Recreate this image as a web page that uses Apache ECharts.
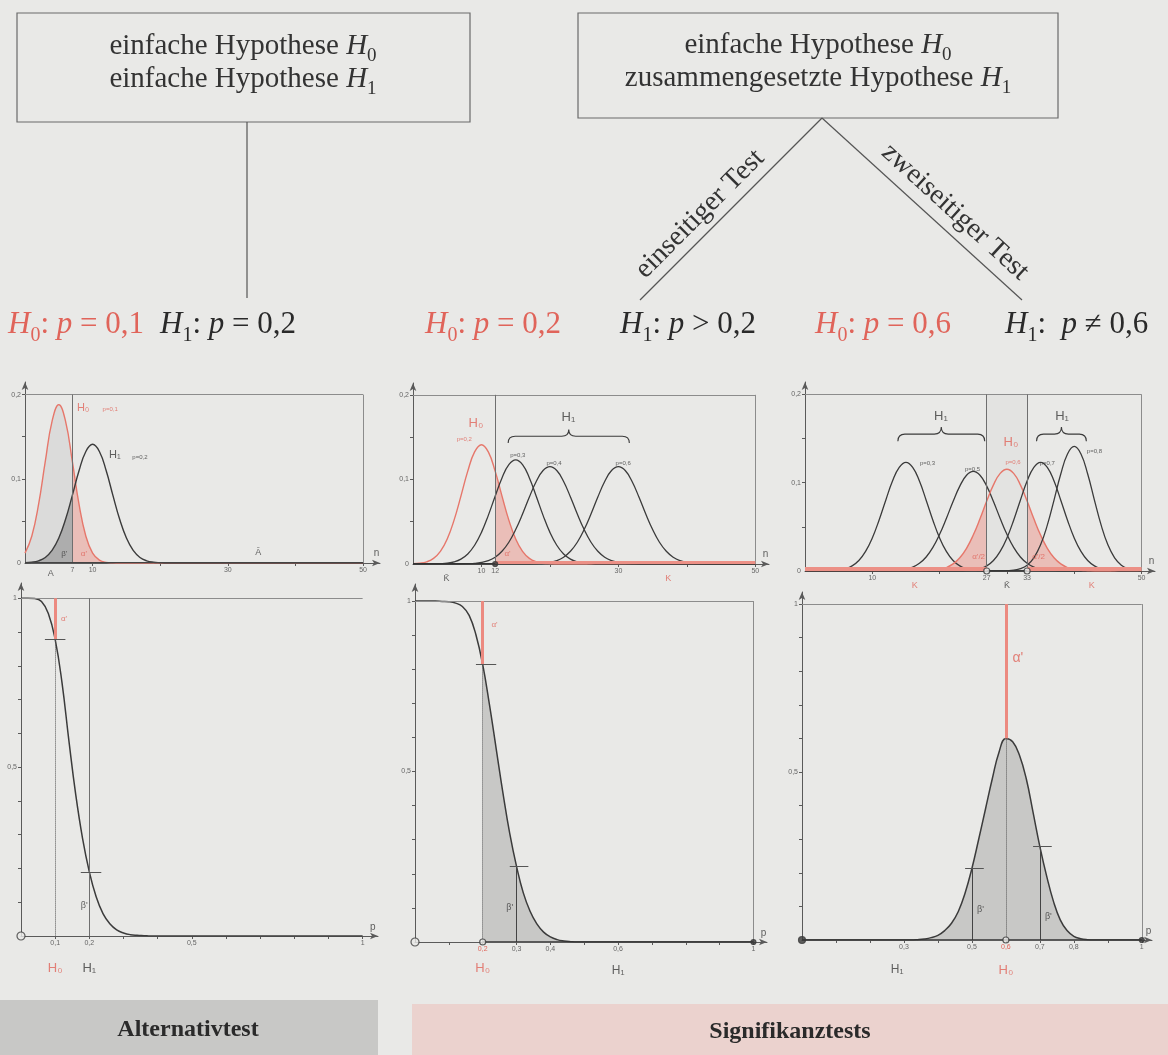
<!DOCTYPE html>
<html><head><meta charset="utf-8">
<script src="https://cdn.jsdelivr.net/npm/echarts@6/dist/echarts.min.js"></script>
<style>html,body{margin:0;padding:0;background:#e9e9e7}#c{width:1168px;height:1055px}</style>
</head><body><div id="c"></div>
<script>
// ---------- data ----------
const N = [0,1,2,3,4,5,6,7,8,9,10,11,12,13,14,15,16,17,18,19,20,21,22,23,24,25,26,27,28,29,30,31,32,33,34,35,36,37,38,39,40,41,42,43,44,45,46,47,48,49,50];
const P01 = [0.0117,0.0318,0.0692,0.1206,0.1683,0.1881,0.1683,0.1206,0.0692,0.0318,0.0117,0.0034,0.0008,0.0002,
  0,0,0,0,0,0,0,0,0,0, 0,0,0,0,0,0,0,0,0,0, 0,0,0,0,0,0,0,0,0,0, 0,0,0,0,0,0,0];
const P02 = [0.0003,0.0009,0.0026,0.0066,0.0149,0.0296,0.0519,0.0803,0.1098,0.1325,0.1410,0.1325,0.1098,0.0803,0.0519,0.0296,0.0149,0.0066,0.0026,0.0009,0.0003,
  0,0,0,0,0,0,0,0,0,0, 0,0,0,0,0,0,0,0,0,0, 0,0,0,0,0,0,0,0,0,0];
const P03 = [0,0,0,0,
  0.0004,0.0011,0.0026,0.0058,0.0119,0.0222,0.0374,0.0575,0.0802,0.1018,0.1174,0.1231,0.1174,0.1018,0.0802,0.0575,0.0374,0.0222,0.0119,0.0058,0.0026,0.0011,0.0004,
  0,0,0,0,0,0,0,0,0,0, 0,0,0,0,0,0,0,0,0,0, 0,0,0,0];
const P04 = [0,0,0,0,0,0,0,0,
  0.0003,0.0007,0.0018,0.0039,0.0080,0.0150,0.0257,0.0407,0.0591,0.0792,0.0975,0.1105,0.1152,0.1105,0.0975,0.0792,0.0591,0.0407,0.0257,0.0150,0.0080,0.0039,0.0018,0.0007,0.0003,
  0,0,0,0,0,0,0,0,0,0, 0,0,0,0,0,0,0,0];
const P05 = [0,0,0,0,0,0,0,0,0,0, 0,0,0,
  0.0004,0.0009,0.0021,0.0044,0.0087,0.0159,0.0267,0.0415,0.0595,0.0787,0.0961,0.1084,0.1128,0.1084,0.0961,0.0787,0.0595,0.0415,0.0267,0.0159,0.0087,0.0044,0.0021,0.0009,0.0004,
  0,0,0,0,0,0,0,0,0,0, 0,0,0];
const P06 = [0,0,0,0,0,0,0,0,0,0, 0,0,0,0,0,0,0,0,
  0.0003,0.0007,0.0018,0.0039,0.0080,0.0150,0.0257,0.0407,0.0591,0.0792,0.0975,0.1105,0.1152,0.1105,0.0975,0.0792,0.0591,0.0407,0.0257,0.0150,0.0080,0.0039,0.0018,0.0007,0.0003,
  0,0,0,0,0,0,0,0];
const P07 = [0,0,0,0,0,0,0,0,0,0, 0,0,0,0,0,0,0,0,0,0, 0,0,0,0,
  0.0004,0.0011,0.0026,0.0058,0.0119,0.0222,0.0374,0.0575,0.0802,0.1018,0.1174,0.1231,0.1174,0.1018,0.0802,0.0575,0.0374,0.0222,0.0119,0.0058,0.0026,0.0011,0.0004,
  0,0,0,0];
const P08 = [0,0,0,0,0,0,0,0,0,0, 0,0,0,0,0,0,0,0,0,0, 0,0,0,0,0,0,0,0,0,0,
  0.0003,0.0009,0.0026,0.0066,0.0149,0.0296,0.0519,0.0803,0.1098,0.1325,0.1410,0.1325,0.1098,0.0803,0.0519,0.0296,0.0149,0.0066,0.0026,0.0009,0.0003];

const P_GRID = [0,0.02,0.04,0.06,0.08,0.1,0.12,0.14,0.16,0.18,0.2,0.22,0.24,0.26,0.28,0.3,0.32,0.34,0.36,0.38,0.4,0.42,0.44,0.46,0.48,0.5,0.52,0.54,0.56,0.58,0.6,0.62,0.64,0.66,0.68,0.7,0.72,0.74,0.76,0.78,0.8,0.82,0.84,0.86,0.88,0.9,0.92,0.94,0.96,0.98,1];
const OC_ALT = [1,1,0.999,0.99,0.955,0.878,0.75,0.58,0.42,0.29,0.19,0.116,0.066,0.036,0.018,0.009,0.004,0.002,0.001,
  0,0,0,0,0,0,0,0,0,0, 0,0,0,0,0,0,0,0,0,0, 0,0,0,0,0,0,0,0,0,0, 0,0];
const OC_ONE = [1,1,1,1,0.999,0.998,0.994,0.984,0.958,0.901,0.814,0.696,0.566,0.436,0.318,0.222,0.144,0.09,0.053,0.029,0.015,0.007,0.003,0.001,
  0,0,0,0,0,0,0,0,0,0, 0,0,0,0,0,0,0,0,0,0, 0,0,0,0,0,0,0];
const OC_TWO = [0,0,0,0,0,0,0,0,0,0, 0,0,0,0,0,0,0,
  0.001,0.003,0.007,0.014,0.028,0.05,0.085,0.14,0.213,0.3,0.39,0.48,0.56,0.6,0.59,0.55,0.48,0.38,0.278,0.19,0.115,0.06,0.028,0.011,0.004,0.001,
  0,0,0,0,0,0,0,0];

const CRIT_ALT = 7, CRIT_ONE = 12, CRIT_TWO = [27, 33];
const MARK_ALT = [0.1, 0.878, 0.2, 0.19];     // p0, OC(p0), p1, OC(p1)
const MARK_ONE = [0.2, 0.814, 0.3, 0.222];
const MARK_TWO = [0.6, 0.6, 0.5, 0.213, 0.7, 0.278];

// ---------- styles ----------
const RED = '#e6776b', REDT = '#e0645a', DARK = '#3b3b3b', AXC = '#5a5a5a', FRAME = '#8c8c8c';
const REDFILL = 'rgba(236,132,120,0.42)', GRAYFILL = 'rgba(105,105,105,0.40)', OCFILL = 'rgba(110,110,110,0.27)';
const SERIF = '"Liberation Serif","DejaVu Serif",serif', SANS = '"Liberation Sans",Arial,sans-serif';

function fmt(v){ return v === 1 ? '1' : String(v).replace('.', ','); }
function pts(xs, ys, a, b){ const o=[]; for(let i=0;i<xs.length;i++){ if(xs[i]>=a-1e-9 && xs[i]<=b+1e-9) o.push([xs[i], ys[i]]); } return o; }
function curve(gi, xs, ys, color, w){ return {type:'line', xAxisIndex:gi, yAxisIndex:gi, data:pts(xs,ys,-1,1e9), smooth:0.45, symbol:'none', silent:true, z:5, lineStyle:{color:color, width:w||1.3}}; }
function area(gi, xs, ys, a, b, fill){ return {type:'line', xAxisIndex:gi, yAxisIndex:gi, data:pts(xs,ys,a,b), smooth:0.45, symbol:'none', silent:true, z:2, lineStyle:{width:0}, areaStyle:{color:fill, opacity:1}}; }
function segs(gi, list){ return {type:'lines', coordinateSystem:'cartesian2d', xAxisIndex:gi, yAxisIndex:gi, silent:true, z:6,
  data:list.map(s=>({coords:[s[0],s[1]], lineStyle:{color:s[2]||FRAME, width:s[3]||1, type:s[4]||'solid', opacity:1}}))}; }
function texts(gi, items){ return {type:'scatter', xAxisIndex:gi, yAxisIndex:gi, clip:false, silent:true, z:10, symbolSize:1, itemStyle:{color:'rgba(0,0,0,0)'},
  data:items.map(t=>({value:[t[1],t[2]], label:{show:true, position:'inside', formatter:t[0], color:t[3]||DARK, fontSize:t[4]||8, fontFamily:SANS}}))}; }
function dots(gi, items){ return {type:'scatter', xAxisIndex:gi, yAxisIndex:gi, clip:false, silent:true, z:12,
  data:items.map(d=>({value:[d[0],d[1]], symbol:'circle', symbolSize:d[3], itemStyle:{color:d[2]?'#e9e9e7':'#3a3a3a', borderColor:'#3a3a3a', borderWidth:1.2}}))}; }
function braces(gi, list){ return {type:'custom', xAxisIndex:gi, yAxisIndex:gi, silent:true, z:8, clip:false, data:list,
  renderItem:(params, api)=>{
    const a=api.coord([api.value(0), api.value(2)]), b=api.coord([api.value(1), api.value(2)]);
    const t=api.coord([api.value(0), api.value(2)+api.value(3)]);
    const x1=a[0], x2=b[0], yb=a[1], yt=t[1], ym=(yb+yt)/2, m=(x1+x2)/2, r=Math.min(7,(x2-x1)/4);
    const d='M'+x1+' '+yb+' Q'+x1+' '+ym+' '+(x1+r)+' '+ym+' L'+(m-r)+' '+ym+' Q'+m+' '+ym+' '+m+' '+yt+
            ' Q'+m+' '+ym+' '+(m+r)+' '+ym+' L'+(x2-r)+' '+ym+' Q'+x2+' '+ym+' '+x2+' '+yb;
    return {type:'path', shape:{pathData:d}, style:{stroke:DARK, fill:'none', lineWidth:1.1}};
  }}; }

function xAx(gi, max, ticks, labels, colorFn){ return {type:'value', gridIndex:gi, min:0, max:max,
  axisLine:{show:true, onZero:false, symbol:['none','arrow'], symbolSize:[5,8], lineStyle:{color:AXC, width:1}},
  axisTick:{show:true, customValues:ticks, length:3, lineStyle:{color:AXC}},
  axisLabel:{show:true, customValues:labels, formatter:fmt, fontSize:7, margin:4, fontFamily:SANS, color:colorFn||'#666'},
  splitLine:{show:false}}; }
function yAx(gi, max, ticks, labels){ return {type:'value', gridIndex:gi, min:0, max:max,
  axisLine:{show:true, onZero:false, symbol:['none','arrow'], symbolSize:[5,8], lineStyle:{color:AXC, width:1}},
  axisTick:{show:true, customValues:ticks, length:3, lineStyle:{color:AXC}},
  axisLabel:{show:true, customValues:labels, formatter:fmt, fontSize:7, margin:4, fontFamily:SANS, color:'#666'},
  splitLine:{show:false}}; }

const grids = [
  {left:25,  top:382, width:355, height:181},
  {left:413, top:383, width:356, height:181},
  {left:805, top:382, width:350, height:189},
  {left:21,  top:583, width:357, height:353},
  {left:415, top:584, width:352, height:358},
  {left:802, top:592, width:350, height:348}
];
const T10 = [10,20,30,40,50], TY = [0.05,0.1,0.15,0.2];
const TP = [0.1,0.2,0.3,0.4,0.5,0.6,0.7,0.8,0.9,1];
const xAxes = [
  xAx(0, 52.5, T10, [CRIT_ALT,10,30,50]),
  xAx(1, 52, T10, [10,CRIT_ONE,30,50]),
  xAx(2, 52, T10, [10,CRIT_TWO[0],CRIT_TWO[1],50]),
  xAx(3, 1.045, TP, [0.1,0.2,0.5,1]),
  xAx(4, 1.04, TP, [0.2,0.3,0.4,0.6,1], v=> (Math.abs(v-0.2)<1e-6 ? REDT : '#666')),
  xAx(5, 1.03, TP, [0.3,0.5,0.6,0.7,0.8,1], v=> (Math.abs(v-0.6)<1e-6 ? REDT : '#666'))
];
const yAxes = [
  yAx(0, 0.215, TY, [0,0.1,0.2]),
  yAx(1, 0.214, TY, [0,0.1,0.2]),
  yAx(2, 0.214, TY, [0,0.1,0.2]),
  yAx(3, 1.045, TP, [0.5,1]),
  yAx(4, 1.05, TP, [0.5,1]),
  yAx(5, 1.036, TP, [0.5,1])
];

const series = [];
// ---- chart A: Alternativtest distributions
series.push(area(0, N, P01, 0, CRIT_ALT, 'rgba(120,120,120,0.12)'));
series.push(area(0, N, P02, 0, CRIT_ALT, GRAYFILL));
series.push(area(0, N, P01, CRIT_ALT, 14, REDFILL));
series.push(curve(0, N, P01, RED, 1.4));
series.push(curve(0, N, P02, DARK, 1.4));
series.push(segs(0, [[[0,0.2],[50,0.2]], [[50,0],[50,0.2]], [[CRIT_ALT,0],[CRIT_ALT,0.2],'#6f6f6f'], [[0,0],[50,0],'#444',1.8]]));
series.push(texts(0, [['H₀',8.6,0.184,REDT,11],['p=0,1',12.6,0.183,REDT,6],['H₁',13.3,0.128,DARK,11],['p=0,2',17,0.126,DARK,6],
  ["β'",5.8,0.011,DARK,8],["α'",8.7,0.011,REDT,8],['A',3.8,-0.013,DARK,9],['A\u0304',34.5,0.012,DARK,9],['n',52,0.011,DARK,10]]));

// ---- chart B: one-sided significance test
series.push(area(1, N, P02, CRIT_ONE, 22, REDFILL));
series.push(curve(1, N, P02, RED, 1.4));
series.push(curve(1, N, P03, DARK));
series.push(curve(1, N, P04, DARK));
series.push(curve(1, N, P06, DARK));
series.push(segs(1, [[[0,0.2],[50,0.2]], [[50,0],[50,0.2]], [[CRIT_ONE,0],[CRIT_ONE,0.2],'#6f6f6f'],
  [[CRIT_ONE,0.0015],[50,0.0015],'#ec9086',4], [[0,0],[CRIT_ONE,0],'#333',3]]));
series.push(dots(1, [[CRIT_ONE,0,false,5]]));
series.push(braces(1, [[13.9,31.6,0.143,0.016]]));
series.push(texts(1, [['H₀',9.2,0.166,REDT,13],['p=0,2',7.5,0.147,REDT,6],['H₁',22.7,0.173,DARK,13],
  ['p=0,3',15.3,0.128,DARK,6],['p=0,4',20.6,0.119,DARK,6],['p=0,6',30.7,0.119,DARK,6],
  ["α'",13.8,0.012,REDT,8],['K\u0304',4.9,-0.017,DARK,9],['K',37.3,-0.017,REDT,9],['n',51.5,0.011,DARK,10]]));

// ---- chart C: two-sided significance test
series.push({type:'line', xAxisIndex:2, yAxisIndex:2, data:[], silent:true,
  markArea:{silent:true, itemStyle:{color:'rgba(0,0,0,0.025)'}, data:[[{coord:[CRIT_TWO[0],0]},{coord:[CRIT_TWO[1],0.2]}]]}});
series.push(area(2, N, P06, 15, CRIT_TWO[0], REDFILL));
series.push(area(2, N, P06, CRIT_TWO[1], 45, REDFILL));
series.push(curve(2, N, P03, DARK));
series.push(curve(2, N, P05, DARK));
series.push(curve(2, N, P06, RED, 1.4));
series.push(curve(2, N, P07, DARK));
series.push(curve(2, N, P08, DARK));
series.push(segs(2, [[[0,0.2],[50,0.2]], [[50,0],[50,0.2]], [[CRIT_TWO[0],0],[CRIT_TWO[0],0.2],'#6f6f6f'], [[CRIT_TWO[1],0],[CRIT_TWO[1],0.2],'#6f6f6f'],
  [[0,0.002],[CRIT_TWO[0],0.002],'#ec9086',4], [[CRIT_TWO[1],0.002],[50,0.002],'#ec9086',4], [[CRIT_TWO[0],0],[CRIT_TWO[1],0],'#333',2.5]]));
series.push(dots(2, [[CRIT_TWO[0],0,true,6],[CRIT_TWO[1],0,true,6]]));
series.push(braces(2, [[13.8,26.7,0.147,0.016],[34.4,41.8,0.147,0.016]]));
series.push(texts(2, [['H₁',20.2,0.175,DARK,13],['H₁',38.2,0.175,DARK,13],['H₀',30.6,0.146,REDT,13],
  ['p=0,3',18.2,0.122,DARK,6],['p=0,5',24.9,0.115,DARK,6],['p=0,6',30.9,0.123,REDT,6],['p=0,7',36,0.122,DARK,6],['p=0,8',43,0.136,DARK,6],
  ["α'/2",25.8,0.016,REDT,8],["α'/2",34.7,0.016,REDT,8],['K',16.3,-0.017,REDT,9],['K',42.6,-0.017,REDT,9],['K\u0304',30,-0.017,DARK,9],['n',51.5,0.011,DARK,10]]));

// ---- chart D: OC curve Alternativtest
series.push(curve(3, P_GRID, OC_ALT, DARK, 1.5));
series.push(segs(3, [[[0,1],[1,1]], [[MARK_ALT[2],0],[MARK_ALT[2],1],'#6f6f6f'],
  [[MARK_ALT[0],1],[MARK_ALT[0],MARK_ALT[1]],'#ec8a80',3], [[MARK_ALT[0],MARK_ALT[1]],[MARK_ALT[0],0],'#555',1,'dotted'],
  [[0.07,MARK_ALT[1]],[0.13,MARK_ALT[1]],'#555'], [[0.175,MARK_ALT[3]],[0.235,MARK_ALT[3]],'#555']]));
series.push(dots(3, [[0,0,true,8]]));
series.push(texts(3, [["α'",0.126,0.94,REDT,8],["β'",0.185,0.09,DARK,9],['H₀',0.1,-0.095,REDT,13],['H₁',0.2,-0.095,DARK,13],['p',1.03,0.025,DARK,10]]));

// ---- chart E: OC one-sided
series.push(area(4, P_GRID, OC_ONE, MARK_ONE[0], 0.5, OCFILL));
series.push(curve(4, P_GRID, OC_ONE, DARK, 1.5));
series.push(segs(4, [[[0,1],[1,1]], [[1,0],[1,1]],
  [[MARK_ONE[0],1],[MARK_ONE[0],MARK_ONE[1]],'#ec8a80',3], [[MARK_ONE[0],MARK_ONE[1]],[MARK_ONE[0],0],'#555',1,'dotted'],
  [[MARK_ONE[2],0],[MARK_ONE[2],MARK_ONE[3]],'#444'],
  [[0.18,MARK_ONE[1]],[0.24,MARK_ONE[1]],'#555'], [[0.28,MARK_ONE[3]],[0.335,MARK_ONE[3]],'#555'],
  [[MARK_ONE[0],0],[1,0],'#333',2.5]]));
series.push(dots(4, [[0,0,true,8],[MARK_ONE[0],0,true,6],[1,0,false,5]]));
series.push(texts(4, [["α'",0.235,0.93,REDT,8],["β'",0.28,0.1,DARK,9],['H₀',0.2,-0.078,REDT,13],['H₁',0.6,-0.085,DARK,12],['p',1.03,0.025,DARK,10]]));

// ---- chart F: OC two-sided
series.push(area(5, P_GRID, OC_TWO, 0.3, 0.9, OCFILL));
series.push(curve(5, P_GRID, OC_TWO, DARK, 1.5));
series.push(segs(5, [[[0,1],[1,1]], [[1,0],[1,1]],
  [[MARK_TWO[0],1],[MARK_TWO[0],MARK_TWO[1]],'#ec8a80',3], [[MARK_TWO[0],MARK_TWO[1]],[MARK_TWO[0],0],'#555',1,'dotted'],
  [[MARK_TWO[2],0],[MARK_TWO[2],MARK_TWO[3]],'#444'], [[MARK_TWO[4],0],[MARK_TWO[4],MARK_TWO[5]],'#444'],
  [[0.48,MARK_TWO[3]],[0.535,MARK_TWO[3]],'#555'], [[0.68,MARK_TWO[5]],[0.735,MARK_TWO[5]],'#555'],
  [[0,0],[1,0],'#333',2.5]]));
series.push(dots(5, [[0,0,false,7],[MARK_TWO[0],0,true,6],[1,0,false,5]]));
series.push(texts(5, [["α'",0.635,0.84,REDT,14],["β'",0.525,0.09,DARK,9],["β'",0.725,0.07,DARK,9],['H₁',0.28,-0.088,DARK,12],['H₀',0.6,-0.092,REDT,13],['p',1.02,0.025,DARK,10]]));

// ---------- decorations (boxes, tree, headings, banners) ----------
const richRow = (col)=>({
  i:{fontFamily:SERIF, fontStyle:'italic', fontSize:31, fill:col},
  n:{fontFamily:SERIF, fontSize:31, fill:col},
  s:{fontFamily:SERIF, fontSize:20, fill:col, padding:[22,0,0,0]}
});
const richBox = {
  r:{fontFamily:SERIF, fontSize:29, fill:'#333'},
  i:{fontFamily:SERIF, fontStyle:'italic', fontSize:29, fill:'#333'},
  s:{fontFamily:SERIF, fontSize:19, fill:'#333', padding:[20,0,0,0]}
};
function rowText(x, y, txt, col){ return {type:'text', x:x, y:y, z:20, style:{text:txt, rich:richRow(col), align:'left', verticalAlign:'middle'}}; }
function boxText(x, y, txt){ return {type:'text', x:x, y:y, z:20, style:{text:txt, rich:richBox, align:'center', verticalAlign:'middle'}}; }

const graphic = [
  {type:'rect', z:20, shape:{x:17, y:13, width:453, height:109}, style:{fill:'none', stroke:'#6a6a6a', lineWidth:1.2}},
  boxText(243, 46, '{r|einfache Hypothese }{i|H}{s|0}'),
  boxText(243, 79, '{r|einfache Hypothese }{i|H}{s|1}'),
  {type:'line', z:20, shape:{x1:247, y1:122, x2:247, y2:298}, style:{stroke:'#555', lineWidth:1.2}},
  {type:'rect', z:20, shape:{x:578, y:13, width:480, height:105}, style:{fill:'none', stroke:'#6a6a6a', lineWidth:1.2}},
  boxText(818, 45, '{r|einfache Hypothese }{i|H}{s|0}'),
  boxText(818, 78, '{r|zusammengesetzte Hypothese }{i|H}{s|1}'),
  {type:'line', z:20, shape:{x1:822, y1:118, x2:640, y2:300}, style:{stroke:'#555', lineWidth:1.2}},
  {type:'line', z:20, shape:{x1:822, y1:118, x2:1022, y2:300}, style:{stroke:'#555', lineWidth:1.2}},
  {type:'text', z:20, x:700, y:214, rotation:Math.PI/4, style:{text:'einseitiger Test', font:'28px '+SERIF, fill:'#333', align:'center', verticalAlign:'middle'}},
  {type:'text', z:20, x:955, y:212, rotation:-0.74, style:{text:'zweiseitiger Test', font:'28px '+SERIF, fill:'#333', align:'center', verticalAlign:'middle'}},
  rowText(8, 325, '{i|H}{s|0}{n|: }{i|p}{n| = 0,1}', REDT),
  rowText(160, 325, '{i|H}{s|1}{n|: }{i|p}{n| = 0,2}', '#2a2a2a'),
  rowText(425, 325, '{i|H}{s|0}{n|: }{i|p}{n| = 0,2}', REDT),
  rowText(620, 325, '{i|H}{s|1}{n|: }{i|p}{n| > 0,2}', '#2a2a2a'),
  rowText(815, 325, '{i|H}{s|0}{n|: }{i|p}{n| = 0,6}', REDT),
  rowText(1005, 325, '{i|H}{s|1}{n|:  }{i|p}{n| ≠ 0,6}', '#2a2a2a'),
  {type:'rect', z:1, shape:{x:0, y:1000, width:378, height:55}, style:{fill:'#c8c8c6'}},
  {type:'rect', z:1, shape:{x:412, y:1004, width:756, height:51}, style:{fill:'#ebd2ce'}},
  {type:'text', z:20, x:188, y:1030, style:{text:'Alternativtest', font:'bold 24px '+SERIF, fill:'#2a2a2a', align:'center', verticalAlign:'middle'}},
  {type:'text', z:20, x:790, y:1032, style:{text:'Signifikanztests', font:'bold 24px '+SERIF, fill:'#2a2a2a', align:'center', verticalAlign:'middle'}}
];

const chart = echarts.init(document.getElementById('c'), null, {renderer:'canvas', width:1168, height:1055});
chart.setOption({
  backgroundColor:'#e9e9e7',
  animation:false,
  grid:grids,
  xAxis:xAxes,
  yAxis:yAxes,
  series:series,
  graphic:graphic
});
</script></body></html>
